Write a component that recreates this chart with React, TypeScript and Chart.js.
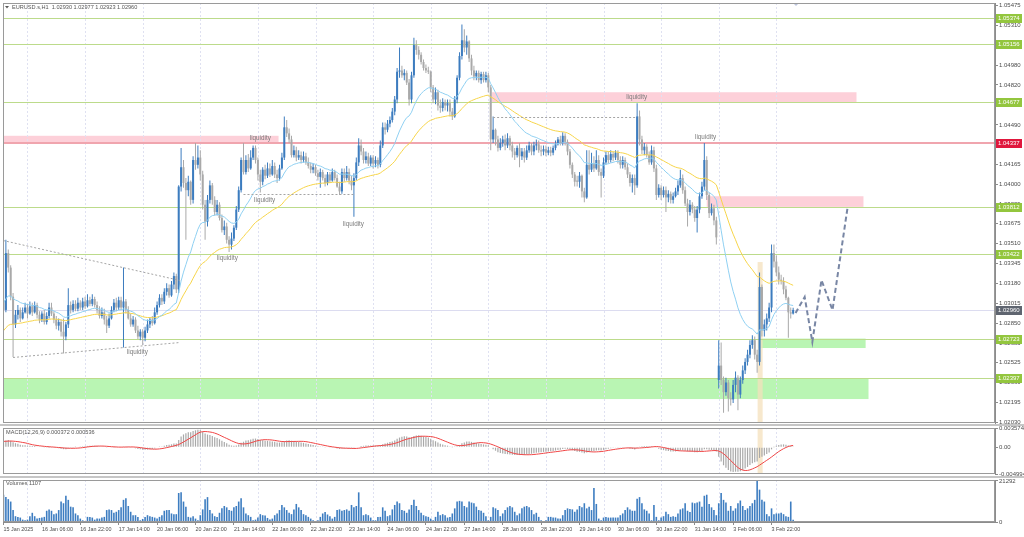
import { useEffect, useRef } from 'react';
import { Chart, registerables } from 'chart.js';

Chart.register(...registerables);

const FONT = '"Liberation Sans", Arial, sans-serif';
Chart.defaults.font.family = FONT;

// ------------------------------------------------------------------ data
const symbolTitle = 'EURUSD.s,H1  1.02930 1.02977 1.02923 1.02960';
const macdTitle = 'MACD(12,26,9) 0.000372 0.000536';
const volumeTitle = 'Volumes 1107';

// H1 bars, index 0 = 15 Jan 2025 14:00
const timeTickIndex = [0, 16, 32, 48, 64, 80, 96, 112, 128, 144, 160, 176, 192, 208, 224, 240, 256, 272, 288, 304, 320];
const timeTickLabels = [
  '15 Jan 2025', '16 Jan 06:00', '16 Jan 22:00', '17 Jan 14:00', '20 Jan 06:00', '20 Jan 22:00', '21 Jan 14:00',
  '22 Jan 06:00', '22 Jan 22:00', '23 Jan 14:00', '24 Jan 06:00', '24 Jan 22:00', '27 Jan 14:00', '28 Jan 06:00',
  '28 Jan 22:00', '29 Jan 14:00', '30 Jan 06:00', '30 Jan 22:00', '31 Jan 14:00', '3 Feb 06:00', '3 Feb 22:00',
];
const dayStartIndex = [10, 34, 58, 82, 106, 130, 154, 178, 202, 226, 250, 274, 298, 322];

const opens = [
  1.0304, 1.0296, 1.0343, 1.0331, 1.0307, 1.0284, 1.0292, 1.0296, 1.0289, 1.0294,
  1.0298, 1.0293, 1.0299, 1.0294, 1.0300, 1.0292, 1.0288, 1.0293, 1.0286, 1.0291,
  1.0298, 1.0293, 1.0288, 1.0283, 1.0286, 1.0278, 1.0274, 1.0284, 1.0300, 1.0296,
  1.0301, 1.0297, 1.0302, 1.0298, 1.0303, 1.0299, 1.0304, 1.0301, 1.0305, 1.0300,
  1.0296, 1.0291, 1.0294, 1.0288, 1.0283, 1.0289, 1.0296, 1.0302, 1.0298, 1.0304,
  1.0298, 1.0303, 1.0296, 1.0289, 1.0284, 1.0288, 1.0279, 1.0274, 1.0278, 1.0273,
  1.0279, 1.0284, 1.0288, 1.0285, 1.0294, 1.0300, 1.0306, 1.0303, 1.0311, 1.0314,
  1.0308, 1.0317, 1.0324, 1.0313, 1.0398, 1.0414, 1.0401, 1.0395, 1.0402, 1.0387,
  1.0420, 1.0416, 1.0422, 1.0408, 1.0383, 1.0369, 1.0387, 1.0399, 1.0387, 1.0377,
  1.0383, 1.0372, 1.0362, 1.0365, 1.0354, 1.0350, 1.0355, 1.0364, 1.0379, 1.0395,
  1.0420, 1.0410, 1.0420, 1.0413, 1.0422, 1.0430, 1.0420, 1.0408, 1.0402, 1.0412,
  1.0407, 1.0413, 1.0408, 1.0415, 1.0408, 1.0405, 1.0413, 1.0422, 1.0447, 1.0442,
  1.0437, 1.0424, 1.0428, 1.0422, 1.0424, 1.0420, 1.0423, 1.0418, 1.0415, 1.0412,
  1.0414, 1.0409, 1.0406, 1.0410, 1.0405, 1.0401, 1.0408, 1.0403, 1.0410, 1.0405,
  1.0398, 1.0394, 1.0410, 1.0405, 1.0410, 1.0403, 1.0399, 1.0405, 1.0418, 1.0432,
  1.0427, 1.0420, 1.0423, 1.0417, 1.0422, 1.0417, 1.0420, 1.0416, 1.0432, 1.0447,
  1.0445, 1.0450, 1.0453, 1.0460, 1.0470, 1.0493, 1.0494, 1.0490, 1.0492, 1.0484,
  1.0470, 1.0490, 1.0515, 1.0511, 1.0507, 1.0501, 1.0496, 1.0494, 1.0493, 1.0480,
  1.0470, 1.0476, 1.0465, 1.0463, 1.0468, 1.0465, 1.0467, 1.0460, 1.0456, 1.0470,
  1.0488, 1.0506, 1.0519, 1.0513, 1.0518, 1.0504, 1.0494, 1.0489, 1.0492, 1.0486,
  1.0491, 1.0486, 1.0490, 1.0480, 1.0437, 1.0445, 1.0437, 1.0430, 1.0434, 1.0437,
  1.0432, 1.0438, 1.0432, 1.0427, 1.0424, 1.0430, 1.0423, 1.0427, 1.0422, 1.0428,
  1.0432, 1.0427, 1.0432, 1.0433, 1.0428, 1.0427, 1.0429, 1.0426, 1.0428, 1.0426,
  1.0430, 1.0433, 1.0437, 1.0434, 1.0440, 1.0435, 1.0427, 1.0416, 1.0408, 1.0403,
  1.0402, 1.0407, 1.0394, 1.0389, 1.0416, 1.0412, 1.0417, 1.0413, 1.0420, 1.0410,
  1.0407, 1.0418, 1.0424, 1.0420, 1.0425, 1.0422, 1.0426, 1.0420, 1.0416, 1.0420,
  1.0414, 1.0408, 1.0401, 1.0405, 1.0399, 1.0456, 1.0437, 1.0428, 1.0431, 1.0424,
  1.0418, 1.0428, 1.0413, 1.0391, 1.0397, 1.0391, 1.0395, 1.0389, 1.0392, 1.0387,
  1.0390, 1.0394, 1.0399, 1.0405, 1.0395, 1.0384, 1.0377, 1.0383, 1.0379, 1.0372,
  1.0379, 1.0390, 1.0398, 1.0420, 1.0391, 1.0376, 1.0380, 1.0370, 1.0238, 1.0250,
  1.0238, 1.0228, 1.0236, 1.0223, 1.0222, 1.0234, 1.0240, 1.0226, 1.0238, 1.0246,
  1.0253, 1.0259, 1.0267, 1.0271, 1.0259, 1.0253, 1.0315, 1.0279, 1.0284, 1.0289,
  1.0298, 1.0343, 1.0336, 1.0327, 1.0321, 1.0320, 1.0313, 1.0306, 1.0294, 1.0293,
];
const highs = [
  1.0307, 1.0354, 1.0346, 1.0333, 1.0310, 1.0296, 1.0300, 1.0298, 1.0298, 1.0302,
  1.0301, 1.0303, 1.0302, 1.0303, 1.0302, 1.0295, 1.0295, 1.0296, 1.0294, 1.0302,
  1.0302, 1.0295, 1.0291, 1.0289, 1.0288, 1.0289, 1.0286, 1.0314, 1.0303, 1.0304,
  1.0304, 1.0306, 1.0304, 1.0306, 1.0307, 1.0309, 1.0307, 1.0309, 1.0307, 1.0303,
  1.0299, 1.0298, 1.0297, 1.0291, 1.0293, 1.0299, 1.0305, 1.0306, 1.0307, 1.0307,
  1.0331, 1.0305, 1.0299, 1.0293, 1.0291, 1.0290, 1.0283, 1.0280, 1.0280, 1.0282,
  1.0288, 1.0290, 1.0291, 1.0298, 1.0303, 1.0309, 1.0309, 1.0314, 1.0318, 1.0317,
  1.0320, 1.0327, 1.0326, 1.0399, 1.0430, 1.0420, 1.0405, 1.0407, 1.0403, 1.0423,
  1.0434, 1.0432, 1.0428, 1.0411, 1.0387, 1.0391, 1.0403, 1.0401, 1.0390, 1.0387,
  1.0385, 1.0375, 1.0370, 1.0368, 1.0357, 1.0360, 1.0366, 1.0382, 1.0398, 1.0422,
  1.0434, 1.0424, 1.0425, 1.0428, 1.0432, 1.0432, 1.0422, 1.0412, 1.0414, 1.0416,
  1.0418, 1.0417, 1.0420, 1.0418, 1.0412, 1.0416, 1.0426, 1.0456, 1.0453, 1.0446,
  1.0440, 1.0432, 1.0431, 1.0428, 1.0427, 1.0427, 1.0426, 1.0422, 1.0418, 1.0417,
  1.0416, 1.0412, 1.0413, 1.0412, 1.0408, 1.0410, 1.0410, 1.0413, 1.0412, 1.0408,
  1.0402, 1.0413, 1.0413, 1.0415, 1.0413, 1.0407, 1.0409, 1.0422, 1.0438, 1.0437,
  1.0430, 1.0427, 1.0426, 1.0424, 1.0424, 1.0423, 1.0422, 1.0436, 1.0451, 1.0451,
  1.0453, 1.0456, 1.0463, 1.0473, 1.0496, 1.0513, 1.0498, 1.0495, 1.0494, 1.0487,
  1.0493, 1.0521, 1.0519, 1.0514, 1.0509, 1.0503, 1.0499, 1.0497, 1.0494, 1.0482,
  1.0480, 1.0478, 1.0470, 1.0471, 1.0470, 1.0470, 1.0470, 1.0463, 1.0473, 1.0490,
  1.0509, 1.0532, 1.0528, 1.0523, 1.0519, 1.0507, 1.0498, 1.0494, 1.0494, 1.0493,
  1.0493, 1.0493, 1.0492, 1.0482, 1.0456, 1.0446, 1.0440, 1.0438, 1.0440, 1.0441,
  1.0442, 1.0440, 1.0435, 1.0430, 1.0432, 1.0434, 1.0430, 1.0430, 1.0432, 1.0435,
  1.0434, 1.0435, 1.0437, 1.0436, 1.0432, 1.0432, 1.0432, 1.0431, 1.0431, 1.0432,
  1.0436, 1.0439, 1.0440, 1.0443, 1.0442, 1.0437, 1.0429, 1.0418, 1.0410, 1.0407,
  1.0410, 1.0408, 1.0397, 1.0428, 1.0428, 1.0426, 1.0423, 1.0428, 1.0424, 1.0413,
  1.0422, 1.0427, 1.0427, 1.0428, 1.0427, 1.0428, 1.0428, 1.0423, 1.0423, 1.0422,
  1.0417, 1.0410, 1.0408, 1.0408, 1.0467, 1.0461, 1.0440, 1.0434, 1.0433, 1.0427,
  1.0432, 1.0431, 1.0416, 1.0400, 1.0399, 1.0398, 1.0398, 1.0395, 1.0394, 1.0393,
  1.0397, 1.0403, 1.0412, 1.0408, 1.0398, 1.0388, 1.0387, 1.0385, 1.0382, 1.0382,
  1.0393, 1.0402, 1.0434, 1.0423, 1.0393, 1.0384, 1.0383, 1.0373, 1.0271, 1.0269,
  1.0241, 1.0240, 1.0238, 1.0228, 1.0238, 1.0245, 1.0242, 1.0241, 1.0250, 1.0256,
  1.0263, 1.0271, 1.0275, 1.0274, 1.0263, 1.0327, 1.0317, 1.0288, 1.0293, 1.0302,
  1.0350, 1.0350, 1.0341, 1.0332, 1.0325, 1.0323, 1.0316, 1.0307, 1.0298, 1.02977,
];
const lows = [
  1.0293, 1.0294, 1.0327, 1.0304, 1.0257, 1.0281, 1.0288, 1.0286, 1.0288, 1.0293,
  1.0289, 1.0292, 1.0291, 1.0293, 1.0289, 1.0285, 1.0286, 1.0284, 1.0284, 1.0289,
  1.0291, 1.0285, 1.0280, 1.0279, 1.0274, 1.0260, 1.0271, 1.0281, 1.0293, 1.0294,
  1.0295, 1.0295, 1.0296, 1.0296, 1.0297, 1.0298, 1.0299, 1.0299, 1.0298, 1.0293,
  1.0289, 1.0289, 1.0284, 1.0277, 1.0281, 1.0288, 1.0294, 1.0295, 1.0296, 1.0296,
  1.0265, 1.0293, 1.0288, 1.0282, 1.0282, 1.0277, 1.0272, 1.0271, 1.0267, 1.0270,
  1.0277, 1.0281, 1.0283, 1.0284, 1.0292, 1.0298, 1.0300, 1.0301, 1.0308, 1.0306,
  1.0307, 1.0313, 1.0310, 1.0310, 1.0394, 1.0397, 1.0354, 1.0390, 1.0383, 1.0384,
  1.0412, 1.0413, 1.0403, 1.0379, 1.0354, 1.0365, 1.0384, 1.0383, 1.0374, 1.0374,
  1.0370, 1.0360, 1.0358, 1.0351, 1.0344, 1.0346, 1.0353, 1.0362, 1.0377, 1.0393,
  1.0408, 1.0408, 1.0410, 1.0412, 1.0420, 1.0417, 1.0403, 1.0393, 1.0399, 1.0404,
  1.0405, 1.0406, 1.0407, 1.0405, 1.0401, 1.0403, 1.0412, 1.0420, 1.0439, 1.0434,
  1.0422, 1.0422, 1.0419, 1.0420, 1.0417, 1.0418, 1.0416, 1.0413, 1.0409, 1.0409,
  1.0407, 1.0403, 1.0397, 1.0403, 1.0398, 1.0399, 1.0401, 1.0402, 1.0403, 1.0397,
  1.0391, 1.0392, 1.0402, 1.0403, 1.0400, 1.0395, 1.0373, 1.0403, 1.0415, 1.0424,
  1.0417, 1.0417, 1.0415, 1.0415, 1.0413, 1.0414, 1.0413, 1.0414, 1.0430, 1.0441,
  1.0443, 1.0447, 1.0451, 1.0457, 1.0467, 1.0488, 1.0488, 1.0486, 1.0482, 1.0465,
  1.0467, 1.0488, 1.0507, 1.0503, 1.0499, 1.0494, 1.0492, 1.0491, 1.0476, 1.0467,
  1.0466, 1.0461, 1.0459, 1.0460, 1.0461, 1.0460, 1.0456, 1.0453, 1.0455, 1.0467,
  1.0486, 1.0503, 1.0509, 1.0507, 1.0501, 1.0490, 1.0486, 1.0486, 1.0484, 1.0483,
  1.0484, 1.0484, 1.0476, 1.0428, 1.0434, 1.0432, 1.0427, 1.0428, 1.0431, 1.0428,
  1.0430, 1.0428, 1.0422, 1.0420, 1.0422, 1.0414, 1.0420, 1.0418, 1.0420, 1.0426,
  1.0424, 1.0424, 1.0428, 1.0426, 1.0423, 1.0424, 1.0423, 1.0424, 1.0423, 1.0424,
  1.0428, 1.0432, 1.0432, 1.0432, 1.0432, 1.0424, 1.0413, 1.0405, 1.0398, 1.0398,
  1.0397, 1.0389, 1.0385, 1.0388, 1.0408, 1.0410, 1.0410, 1.0412, 1.0407, 1.0389,
  1.0405, 1.0416, 1.0417, 1.0418, 1.0419, 1.0420, 1.0417, 1.0413, 1.0413, 1.0412,
  1.0405, 1.0398, 1.0393, 1.0391, 1.0397, 1.0432, 1.0425, 1.0424, 1.0422, 1.0416,
  1.0416, 1.0410, 1.0387, 1.0389, 1.0387, 1.0389, 1.0377, 1.0385, 1.0384, 1.0384,
  1.0389, 1.0391, 1.0397, 1.0392, 1.0382, 1.0365, 1.0374, 1.0376, 1.0369, 1.0360,
  1.0376, 1.0388, 1.0395, 1.0387, 1.0372, 1.0374, 1.0366, 1.0350, 1.0231, 1.0234,
  1.0211, 1.0225, 1.0212, 1.0217, 1.0219, 1.0228, 1.0213, 1.0223, 1.0235, 1.0243,
  1.0250, 1.0256, 1.0264, 1.0255, 1.0244, 1.0250, 1.0274, 1.0274, 1.0279, 1.0286,
  1.0294, 1.0331, 1.0324, 1.0317, 1.0317, 1.0309, 1.0304, 1.0273, 1.0289, 1.02923,
];
const closes = [
  1.0296, 1.0343, 1.0331, 1.0307, 1.0284, 1.0292, 1.0296, 1.0289, 1.0294, 1.0298,
  1.0293, 1.0299, 1.0294, 1.0300, 1.0292, 1.0288, 1.0293, 1.0286, 1.0291, 1.0298,
  1.0293, 1.0288, 1.0283, 1.0286, 1.0278, 1.0274, 1.0284, 1.0300, 1.0296, 1.0301,
  1.0297, 1.0302, 1.0298, 1.0303, 1.0299, 1.0304, 1.0301, 1.0305, 1.0300, 1.0296,
  1.0291, 1.0294, 1.0288, 1.0283, 1.0289, 1.0296, 1.0302, 1.0298, 1.0304, 1.0298,
  1.0303, 1.0296, 1.0289, 1.0284, 1.0288, 1.0279, 1.0274, 1.0278, 1.0273, 1.0279,
  1.0284, 1.0288, 1.0285, 1.0294, 1.0300, 1.0306, 1.0303, 1.0311, 1.0314, 1.0308,
  1.0317, 1.0324, 1.0313, 1.0398, 1.0414, 1.0401, 1.0395, 1.0402, 1.0387, 1.0420,
  1.0416, 1.0422, 1.0408, 1.0383, 1.0369, 1.0387, 1.0399, 1.0387, 1.0377, 1.0383,
  1.0372, 1.0362, 1.0365, 1.0354, 1.0350, 1.0355, 1.0364, 1.0379, 1.0395, 1.0420,
  1.0410, 1.0420, 1.0413, 1.0422, 1.0430, 1.0420, 1.0408, 1.0402, 1.0412, 1.0407,
  1.0413, 1.0408, 1.0415, 1.0408, 1.0405, 1.0413, 1.0422, 1.0447, 1.0442, 1.0437,
  1.0424, 1.0428, 1.0422, 1.0424, 1.0420, 1.0423, 1.0418, 1.0415, 1.0412, 1.0414,
  1.0409, 1.0406, 1.0410, 1.0405, 1.0401, 1.0408, 1.0403, 1.0410, 1.0405, 1.0398,
  1.0394, 1.0410, 1.0405, 1.0410, 1.0403, 1.0399, 1.0405, 1.0418, 1.0432, 1.0427,
  1.0420, 1.0423, 1.0417, 1.0422, 1.0417, 1.0420, 1.0416, 1.0432, 1.0447, 1.0445,
  1.0450, 1.0453, 1.0460, 1.0470, 1.0493, 1.0494, 1.0490, 1.0492, 1.0484, 1.0470,
  1.0490, 1.0515, 1.0511, 1.0507, 1.0501, 1.0496, 1.0494, 1.0493, 1.0480, 1.0470,
  1.0476, 1.0465, 1.0463, 1.0468, 1.0465, 1.0467, 1.0460, 1.0456, 1.0470, 1.0488,
  1.0506, 1.0519, 1.0513, 1.0518, 1.0504, 1.0494, 1.0489, 1.0492, 1.0486, 1.0491,
  1.0486, 1.0490, 1.0480, 1.0437, 1.0445, 1.0437, 1.0430, 1.0434, 1.0437, 1.0432,
  1.0438, 1.0432, 1.0427, 1.0424, 1.0430, 1.0423, 1.0427, 1.0422, 1.0428, 1.0432,
  1.0427, 1.0432, 1.0433, 1.0428, 1.0427, 1.0429, 1.0426, 1.0428, 1.0426, 1.0430,
  1.0433, 1.0437, 1.0434, 1.0440, 1.0435, 1.0427, 1.0416, 1.0408, 1.0402, 1.0402,
  1.0407, 1.0394, 1.0389, 1.0416, 1.0412, 1.0417, 1.0413, 1.0420, 1.0410, 1.0407,
  1.0418, 1.0424, 1.0420, 1.0425, 1.0422, 1.0426, 1.0420, 1.0416, 1.0420, 1.0414,
  1.0408, 1.0401, 1.0405, 1.0399, 1.0456, 1.0437, 1.0428, 1.0431, 1.0424, 1.0418,
  1.0428, 1.0413, 1.0391, 1.0397, 1.0391, 1.0395, 1.0389, 1.0392, 1.0387, 1.0390,
  1.0394, 1.0399, 1.0405, 1.0395, 1.0384, 1.0377, 1.0383, 1.0379, 1.0372, 1.0379,
  1.0390, 1.0398, 1.0420, 1.0391, 1.0376, 1.0380, 1.0370, 1.0356, 1.0250, 1.0238,
  1.0228, 1.0236, 1.0223, 1.0222, 1.0234, 1.0240, 1.0226, 1.0238, 1.0246, 1.0253,
  1.0259, 1.0267, 1.0271, 1.0259, 1.0253, 1.0315, 1.0279, 1.0284, 1.0289, 1.0298,
  1.0343, 1.0336, 1.0327, 1.0321, 1.0320, 1.0313, 1.0306, 1.0294, 1.0293, 1.0296,
];
const volumes = [
  14160, 12920, 11860, 10620, 6200, 3010, 2660, 2300, 1240, 890,
  1240, 3010, 4780, 3010, 1770, 2120, 2300, 2660, 5840, 6550,
  5840, 4070, 4430, 6200, 10620, 9740, 13630, 11500, 7970, 7610,
  4430, 3540, 1770, 890, 530, 2660, 2660, 2300, 1240, 1770,
  1770, 2300, 2660, 6200, 6550, 6200, 4780, 5310, 6200, 7610,
  11500, 12390, 8320, 5310, 3540, 3540, 2660, 890, 1590, 2660,
  3540, 3010, 2660, 2300, 1770, 2660, 3540, 5840, 6200, 6200,
  4430, 4070, 4070, 15050, 15400, 10620, 7970, 2660, 2300, 3010,
  1770, 890, 3540, 6550, 11860, 12920, 6200, 4430, 3010, 2660,
  4780, 7080, 8320, 7610, 6200, 5840, 7610, 8320, 10620, 12390,
  7610, 4430, 3540, 2660, 890, 1240, 2300, 4070, 3540, 3360,
  2120, 1240, 1770, 3540, 4430, 6200, 8850, 7610, 6200, 4780,
  4070, 6550, 9380, 7610, 6200, 4070, 3540, 2660, 1770, 890,
  350, 890, 2660, 4430, 5130, 3890, 3010, 1770, 2660, 6200,
  6550, 5840, 6200, 6550, 5840, 8850, 7610, 8320, 15400, 7610,
  3540, 4070, 3540, 2300, 890, 890, 2660, 2660, 7610, 5840,
  3010, 3540, 6550, 8850, 10620, 9740, 6200, 5840, 4780, 6550,
  8850, 11500, 8320, 6200, 4780, 3540, 3010, 2660, 1770, 890,
  2660, 5310, 3540, 4070, 3540, 2300, 2660, 4430, 7080, 10620,
  10970, 10620, 8320, 7610, 10620, 10090, 9740, 7970, 6200, 5840,
  4780, 3010, 890, 2660, 7610, 7080, 6200, 3010, 4430, 6200,
  7610, 8320, 7610, 5310, 3540, 4430, 7080, 7970, 8320, 7610,
  6200, 4070, 4780, 2660, 890, 530, 890, 2660, 2660, 2300,
  2300, 1770, 1770, 3540, 6200, 7080, 6730, 6550, 5310, 6550,
  8320, 7610, 9740, 7080, 7970, 6200, 17700, 9380, 1770, 890,
  2300, 2660, 2300, 2300, 2300, 2300, 2300, 3540, 4430, 6200,
  7610, 6550, 5840, 5840, 12040, 12920, 9740, 6550, 5840, 4430,
  890, 8850, 2660, 890, 2300, 3010, 5310, 4070, 2660, 3010,
  2660, 4430, 6550, 7080, 9740, 5840, 5130, 10090, 9740, 10090,
  10620, 7970, 13630, 14160, 9380, 7610, 6200, 3540, 9740, 15050,
  11500, 10090, 5840, 8320, 5840, 7080, 9740, 11150, 8320, 6200,
  7080, 8320, 9740, 11500, 21292, 16800, 11500, 10620, 4070, 3010,
  7080, 4070, 4430, 4430, 4780, 4070, 3010, 2660, 10620, 1107,
];

// price axis
const priceTicks = [
  1.05475, 1.0531, 1.05145, 1.0498, 1.0482, 1.04655, 1.0449, 1.0433, 1.04165, 1.04, 1.03835,
  1.03675, 1.0351, 1.03345, 1.0318, 1.03015, 1.0285, 1.02685, 1.02525, 1.0236, 1.02195, 1.0203,
];
const supportResistance = [1.05374, 1.05156, 1.04677, 1.03812, 1.03422, 1.02723, 1.02397];
const keyLevel = 1.04337;
const lastPrice = 1.0296;

// zones (bar index range, price range)
const pinkZoneFrom = [-1, 203.5, 293];
const pinkZoneTo = [114.6, 355.4, 358.3];
const pinkZoneHigh = [1.044, 1.0476, 1.039];
const pinkZoneLow = [1.04344, 1.04677, 1.03812];
const greenZoneFrom = [-1, 314.6];
const greenZoneTo = [360.4, 359.2];
const greenZoneHigh = [1.02397, 1.02723];
const greenZoneLow = [1.02223, 1.02645];
const spikeFrom = 314.2;
const spikeTo = 316.3;
const spikeTop = 1.03356;

// "liquidity" notes
const liquidityX = [107, 263.8, 292.5, 108.8, 145.8, 93.3, 55.8];
const liquidityPrice = [1.04382, 1.04721, 1.0439, 1.03869, 1.03671, 1.03389, 1.02612];

// dotted trend lines
const trendFromX = [-0.2, 4, 100, 204];
const trendFromPrice = [1.03538, 1.02571, 1.03919, 1.04555];
const trendToX = [73.6, 73.6, 146, 264];
const trendToPrice = [1.03207, 1.02695, 1.03919, 1.04555];

// forecast path
const forecastX = [330, 333.8, 337, 340.8, 345.4, 351.7];
const forecastPrice = [1.02934, 1.03067, 1.02695, 1.03207, 1.02959, 1.03811];

const macdTicks = [0.003574, 0, -0.004994];
const volumeTicks = [21292, 0];

// indicator values just before the first visible bar
const emaFastSeed = 1.0302;
const emaSlowSeed = 1.0278;
const ema12Seed = 1.0301;
const ema26Seed = 1.029;
const signalSeed = 0.0011;

// ------------------------------------------------------------------ derived
function ema(values: number[], period: number, seed: number): number[] {
  const k = 2 / (period + 1);
  let e = seed;
  return values.map((v) => {
    e = e + k * (v - e);
    return e;
  });
}
const emaFast = ema(closes, 21, emaFastSeed);
const emaSlow = ema(closes, 50, emaSlowSeed);
const ema12 = ema(closes, 12, ema12Seed);
const ema26 = ema(closes, 26, ema26Seed);
const macdMain = ema12.map((v, i) => v - ema26[i]);
const macdSignal = macdMain.map((_, i) => {
  let s = 0;
  for (let k = i - 8; k <= i; k++) s += k >= 0 ? macdMain[k] : signalSeed;
  return s / 9;
});

// ------------------------------------------------------------------ style
const X_MIN = -0.2;
const X_MAX = 413.1;
const BULL = '#3c7cbf';
const BEAR = '#a9a9a9';
const AXIS = '#8c8c8c';
const TEXT = '#4c4c4c';
const SPIKE_FILL = 'rgba(244, 224, 188, 0.75)';
const candleColors = closes.map((c, i) => (c >= opens[i] ? BULL : BEAR));

const pts = (values: number[]) => values.map((v, i) => ({ x: i, y: v }));

function rightAxis(min: number, max: number, tickValues: number[], fmt: (v: number) => string) {
  return {
    type: 'linear',
    position: 'right',
    min,
    max,
    afterFit: (s: any) => {
      s.width = 29;
      s.paddingTop = 0;
      s.paddingBottom = 0;
    },
    afterBuildTicks: (s: any) => {
      s.ticks = tickValues.map((v) => ({ value: v }));
    },
    ticks: {
      callback: (v: any) => fmt(Number(v)),
      font: { size: 6, family: FONT },
      color: TEXT,
      padding: 1,
      autoSkip: false,
    },
    grid: { drawOnChartArea: false, drawTicks: true, tickLength: 3, color: AXIS },
    border: { display: true, color: AXIS },
  };
}

const hiddenX = { type: 'linear', min: X_MIN, max: X_MAX, offset: false, display: false, grid: { offset: false } };

function drawDayGrid(chart: any) {
  const { ctx, chartArea: a, scales } = chart;
  ctx.save();
  ctx.strokeStyle = '#dfe1f1';
  ctx.lineWidth = 1;
  ctx.setLineDash([2, 2]);
  dayStartIndex.forEach((d) => {
    const x = Math.round(scales.x.getPixelForValue(d)) + 0.5;
    ctx.beginPath();
    ctx.moveTo(x, a.top);
    ctx.lineTo(x, a.bottom);
    ctx.stroke();
  });
  ctx.restore();
}

function drawFrame(chart: any) {
  const { ctx, chartArea: a } = chart;
  ctx.save();
  ctx.strokeStyle = '#9a9a9a';
  ctx.lineWidth = 1;
  ctx.strokeRect(a.left + 0.5, a.top + 0.5, a.right - a.left - 1, a.bottom - a.top - 1);
  ctx.restore();
}

function drawText(ctx: any, text: string, x: number, y: number, size: number, color: string, align = 'left') {
  ctx.save();
  ctx.font = `${size}px ${FONT}`;
  ctx.fillStyle = color;
  ctx.textAlign = align;
  ctx.textBaseline = 'middle';
  ctx.fillText(text, x, y);
  ctx.restore();
}

function axisTag(chart: any, yPix: number, text: string, bg: string) {
  const { ctx, chartArea: a } = chart;
  const y = Math.round(yPix);
  ctx.save();
  ctx.fillStyle = bg;
  ctx.fillRect(a.right + 1, y - 4, 26, 9);
  ctx.restore();
  drawText(ctx, text, a.right + 3, y + 0.5, 6, '#ffffff');
}

const mainPlugin = {
  id: 'mainOverlay',
  beforeDatasetsDraw(chart: any) {
    const { ctx, chartArea: a, scales } = chart;
    const X = (v: number) => scales.x.getPixelForValue(v);
    const Y = (v: number) => scales.y.getPixelForValue(v);
    ctx.save();
    ctx.beginPath();
    ctx.rect(a.left, a.top, a.right - a.left, a.bottom - a.top);
    ctx.clip();
    ctx.fillStyle = '#fdd0d9';
    pinkZoneFrom.forEach((f, k) => {
      const x0 = X(f);
      const y0 = Y(pinkZoneHigh[k]);
      ctx.fillRect(x0, y0, X(pinkZoneTo[k]) - x0, Y(pinkZoneLow[k]) - y0);
    });
    ctx.fillStyle = '#b9f5b3';
    greenZoneFrom.forEach((f, k) => {
      const x0 = X(f);
      const y0 = Y(greenZoneHigh[k]);
      ctx.fillRect(x0, y0, X(greenZoneTo[k]) - x0, Y(greenZoneLow[k]) - y0);
    });
    ctx.fillStyle = SPIKE_FILL;
    ctx.fillRect(X(spikeFrom), Y(spikeTop), X(spikeTo) - X(spikeFrom), a.bottom - Y(spikeTop));
    ctx.restore();

    drawDayGrid(chart);

    ctx.save();
    ctx.beginPath();
    ctx.rect(a.left, a.top, a.right - a.left, a.bottom - a.top);
    ctx.clip();
    const hline = (v: number, color: string, w: number) => {
      const y = Math.round(Y(v)) + (w % 2 ? 0.5 : 0);
      ctx.strokeStyle = color;
      ctx.lineWidth = w;
      ctx.beginPath();
      ctx.moveTo(a.left, y);
      ctx.lineTo(a.right, y);
      ctx.stroke();
    };
    hline(lastPrice, '#dcdcf0', 1);
    supportResistance.forEach((v) => hline(v, '#bcdb8b', 1));
    hline(keyLevel, '#f0a5ae', 2);
    ctx.restore();
  },
  afterDatasetsDraw(chart: any) {
    const { ctx, chartArea: a, scales } = chart;
    const X = (v: number) => scales.x.getPixelForValue(v);
    const Y = (v: number) => scales.y.getPixelForValue(v);
    ctx.save();
    ctx.beginPath();
    ctx.rect(a.left, a.top, a.right - a.left, a.bottom - a.top);
    ctx.clip();
    ctx.strokeStyle = '#a4a4a4';
    ctx.lineWidth = 1;
    ctx.setLineDash([2, 2]);
    trendFromX.forEach((fx, k) => {
      ctx.beginPath();
      ctx.moveTo(X(fx), Math.round(Y(trendFromPrice[k])) + 0.5);
      ctx.lineTo(X(trendToX[k]), Math.round(Y(trendToPrice[k])) + 0.5);
      ctx.stroke();
    });
    ctx.strokeStyle = '#7886a4';
    ctx.lineWidth = 2;
    ctx.setLineDash([5, 3]);
    ctx.beginPath();
    forecastX.forEach((fx, k) => {
      if (k === 0) ctx.moveTo(X(fx), Y(forecastPrice[k]));
      else ctx.lineTo(X(fx), Y(forecastPrice[k]));
    });
    ctx.stroke();
    ctx.setLineDash([]);
    liquidityX.forEach((lx, k) => drawText(ctx, 'liquidity', X(lx), Y(liquidityPrice[k]), 6.3, '#7a7a7a', 'center'));
    ctx.restore();

    // title + chart-shift marker
    ctx.save();
    ctx.fillStyle = '#5a5a5a';
    ctx.beginPath();
    ctx.moveTo(5, 6);
    ctx.lineTo(9, 6);
    ctx.lineTo(7, 8.5);
    ctx.closePath();
    ctx.fill();
    ctx.fillStyle = '#bcc4dc';
    ctx.beginPath();
    ctx.moveTo(793, 3);
    ctx.lineTo(799, 3);
    ctx.lineTo(796, 6);
    ctx.closePath();
    ctx.fill();
    ctx.restore();
    drawText(ctx, symbolTitle, 12, 7.5, 5.6, '#555555');
  },
  afterDraw(chart: any) {
    const Y = (v: number) => chart.scales.y.getPixelForValue(v);
    drawFrame(chart);
    supportResistance.forEach((v) => axisTag(chart, Y(v), v.toFixed(5), '#93c63e'));
    axisTag(chart, Y(keyLevel), keyLevel.toFixed(5), '#e0173d');
    axisTag(chart, Y(lastPrice), lastPrice.toFixed(5), '#5f6570');
  },
};

const macdPlugin = {
  id: 'macdOverlay',
  beforeDatasetsDraw(chart: any) {
    const { ctx, chartArea: a, scales } = chart;
    const x0 = scales.x.getPixelForValue(spikeFrom);
    ctx.save();
    ctx.fillStyle = SPIKE_FILL;
    ctx.fillRect(x0, a.top, scales.x.getPixelForValue(spikeTo) - x0, a.bottom - a.top);
    ctx.restore();
    drawDayGrid(chart);
  },
  afterDraw(chart: any) {
    drawFrame(chart);
    drawText(chart.ctx, macdTitle, 6, 6.5, 5.6, '#555555');
  },
};

const volumePlugin = {
  id: 'volumeOverlay',
  beforeDatasetsDraw(chart: any) {
    drawDayGrid(chart);
  },
  afterDraw(chart: any) {
    drawFrame(chart);
    drawText(chart.ctx, volumeTitle, 6, 5.5, 5.6, '#555555');
  },
};

const baseOptions = {
  animation: false,
  responsive: false,
  events: [],
  plugins: { legend: { display: false }, tooltip: { enabled: false } },
};

function mainConfig(): any {
  return {
    type: 'bar',
    data: {
      datasets: [
        { type: 'line', data: pts(emaFast), borderColor: '#8fd0f2', borderWidth: 1, pointRadius: 0, order: 0 },
        { type: 'line', data: pts(emaSlow), borderColor: '#f7d54a', borderWidth: 1, pointRadius: 0, order: 0 },
        {
          type: 'bar',
          data: opens.map((o, i) => ({ x: i, y: [o, closes[i]] })),
          backgroundColor: candleColors,
          barThickness: 2,
          minBarLength: 1,
          grouped: false,
          inflateAmount: 0,
          order: 1,
        },
        {
          type: 'bar',
          data: lows.map((l, i) => ({ x: i, y: [l, highs[i]] })),
          backgroundColor: candleColors,
          barThickness: 1,
          grouped: false,
          inflateAmount: 0,
          order: 2,
        },
      ],
    },
    options: {
      ...baseOptions,
      layout: { padding: { left: 3, top: 3, right: 0, bottom: 1 }, autoPadding: false },
      scales: {
        x: hiddenX,
        y: rightAxis(1.02025, 1.05498, priceTicks, (v) => v.toFixed(5)),
      },
    },
    plugins: [mainPlugin],
  };
}

function macdConfig(): any {
  return {
    type: 'bar',
    data: {
      datasets: [
        { type: 'line', data: pts(macdSignal), borderColor: '#f04545', borderWidth: 1, pointRadius: 0, order: 0 },
        {
          type: 'bar',
          data: pts(macdMain),
          backgroundColor: '#a9a9a9',
          barThickness: 1.2,
          grouped: false,
          inflateAmount: 0,
          order: 1,
        },
      ],
    },
    options: {
      ...baseOptions,
      layout: { padding: { left: 3, top: 2, right: 0, bottom: 2 }, autoPadding: false },
      scales: {
        x: hiddenX,
        y: rightAxis(-0.004994, 0.003574, macdTicks, (v) => (v === 0 ? '0.00' : v.toFixed(6))),
      },
    },
    plugins: [macdPlugin],
  };
}

function volumeConfig(): any {
  return {
    type: 'bar',
    data: {
      datasets: [
        {
          type: 'bar',
          data: pts(volumes),
          backgroundColor: '#3d7dc1',
          barThickness: 1.6,
          grouped: false,
          inflateAmount: 0,
        },
      ],
    },
    options: {
      ...baseOptions,
      layout: { padding: { left: 3, top: 2, right: 0, bottom: 0 }, autoPadding: false },
      scales: {
        x: {
          type: 'linear',
          min: X_MIN,
          max: X_MAX,
          offset: false,
          afterFit: (s: any) => {
            s.height = 15;
            s.paddingLeft = 0;
            s.paddingRight = 0;
          },
          afterBuildTicks: (s: any) => {
            s.ticks = timeTickIndex.map((v) => ({ value: v }));
          },
          ticks: {
            callback: (v: any) => timeTickLabels[timeTickIndex.indexOf(Number(v))] ?? '',
            align: 'start',
            maxRotation: 0,
            minRotation: 0,
            autoSkip: false,
            font: { size: 5.4, family: FONT },
            color: TEXT,
            padding: 1,
          },
          grid: { drawOnChartArea: false, drawTicks: true, tickLength: 3, color: AXIS, offset: false },
          border: { display: true, color: AXIS },
        },
        y: rightAxis(0, 21811, volumeTicks, (v) => String(v)),
      },
    },
    plugins: [volumePlugin],
  };
}

export default function App() {
  const mainRef = useRef<HTMLCanvasElement>(null);
  const macdRef = useRef<HTMLCanvasElement>(null);
  const volRef = useRef<HTMLCanvasElement>(null);

  useEffect(() => {
    document.body.style.margin = '0';
    const charts = [
      new Chart(mainRef.current as HTMLCanvasElement, mainConfig()),
      new Chart(macdRef.current as HTMLCanvasElement, macdConfig()),
      new Chart(volRef.current as HTMLCanvasElement, volumeConfig()),
    ];
    return () => charts.forEach((c) => c.destroy());
  }, []);

  return (
    <div style={{ position: 'fixed', left: 0, top: 0, width: 1024, height: 537, background: '#ffffff', overflow: 'hidden' }}>
      <canvas ref={mainRef} width={1024} height={424} style={{ position: 'absolute', left: 0, top: 0 }} />
      <div style={{ position: 'absolute', left: 0, top: 424, width: 1024, height: 2, background: '#c6c6c6' }} />
      <canvas ref={macdRef} width={1024} height={50} style={{ position: 'absolute', left: 0, top: 426 }} />
      <div style={{ position: 'absolute', left: 0, top: 476, width: 1024, height: 2, background: '#c6c6c6' }} />
      <canvas ref={volRef} width={1024} height={59} style={{ position: 'absolute', left: 0, top: 478 }} />
    </div>
  );
}
